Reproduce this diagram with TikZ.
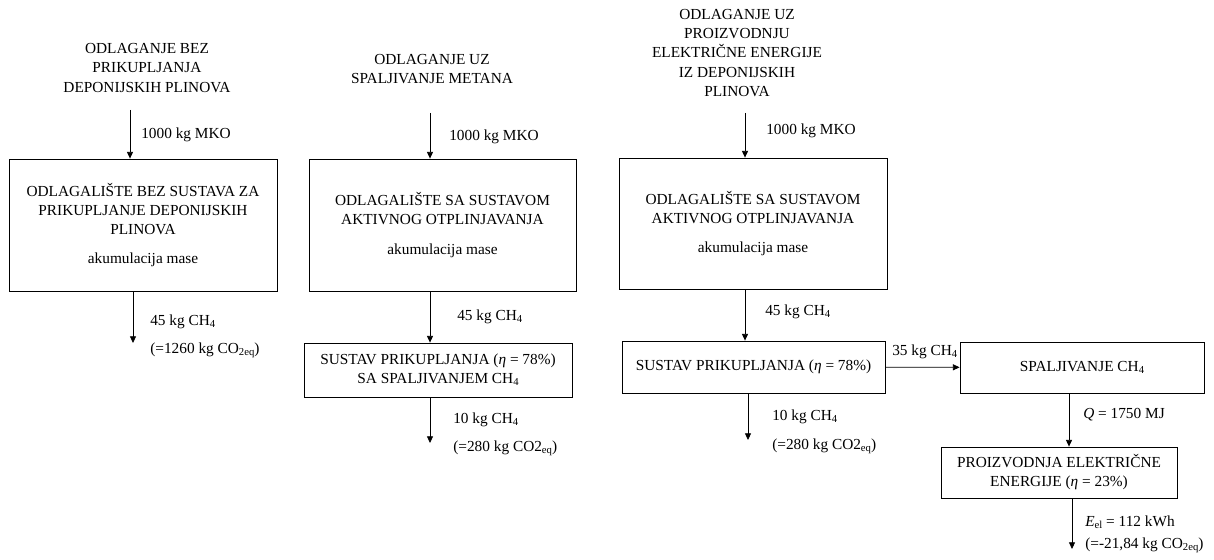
\documentclass[tikz,border=0pt]{standalone}
\usepackage{fontspec}
\setmainfont{Liberation Serif}
\usepackage{xcolor}
\usepackage{tikz}
\usetikzlibrary{positioning, arrows.meta, calc}
\newcommand{\lowsub}[1]{\raisebox{-0.25ex}{\fontsize{8}{8}\selectfont #1}}
\newcommand{\chfour}{CH\lowsub{4}}
\newcommand{\coeq}{CO\lowsub{2eq}}

\begin{document}
\begin{tikzpicture}[x=0.75pt, y=-0.75pt,
        every node/.style={font=\fontsize{11.5}{14.3}\selectfont},
        block/.style={rectangle, draw, line width=0.6pt, align=center, inner sep=0pt},
        title/.style={align=center, inner sep=0pt},
        flowlabel/.style={anchor=west, inner sep=0pt},
        arrow/.style={-{Triangle[length=5pt, width=4.5pt]}, line width=0.6pt}
    ]
        \useasboundingbox (0,0) rectangle (1214,560);

        % Titles
        \node[title] (title1) at (147,68) {ODLAGANJE BEZ\\ PRIKUPLJANJA\\ DEPONIJSKIH PLINOVA};
        \node[title] (title2) at (432,69) {ODLAGANJE UZ\\ SPALJIVANJE METANA};
        \node[title] (title3) at (737,53) {ODLAGANJE UZ\\ PROIZVODNJU\\ ELEKTRIČNE ENERGIJE\\ IZ DEPONIJSKIH\\ PLINOVA};

        % Landfills
        \node[block, minimum width=201pt, minimum height=99pt] (landfill1) at (143,225) {ODLAGALIŠTE BEZ SUSTAVA ZA\\ PRIKUPLJANJE DEPONIJSKIH\\ PLINOVA\\[8pt] akumulacija mase};
        \node[block, minimum width=200.25pt, minimum height=99pt] (landfill2) at (442.5,225) {ODLAGALIŠTE SA SUSTAVOM\\ AKTIVNOG OTPLINJAVANJA\\[8pt] akumulacija mase};
        \node[block, minimum width=201pt, minimum height=98.25pt] (landfill3) at (753,223.5) {ODLAGALIŠTE SA SUSTAVOM\\ AKTIVNOG OTPLINJAVANJA\\[8pt] akumulacija mase};

        % Collection systems
        \node[block, minimum width=201pt, minimum height=40.5pt] (collect2) at (438,370) {SUSTAV PRIKUPLJANJA ({\itshape η} = 78\%)\\ SA SPALJIVANJEM \chfour};
        \node[block, minimum width=197.25pt, minimum height=39pt] (collect3) at (753.5,367) {SUSTAV PRIKUPLJANJA ({\itshape η} = 78\%)};

        % Combustion and power
        \node[block, minimum width=183pt, minimum height=38.25pt] (burn) at (1082,367.5) {SPALJIVANJE \chfour};
        \node[block, minimum width=177pt, minimum height=38.25pt] (power) at (1059,472.5) {PROIZVODNJA ELEKTRIČNE\\ ENERGIJE ({\itshape η} = 23\%)};

        % Inputs
        \coordinate (in1) at (130,110);
        \coordinate (in2) at (430,113);
        \coordinate (in3) at (745,113);
        \draw[arrow] (in1) -- (in1 |- landfill1.north);
        \draw[arrow] (in2) -- (in2 |- landfill2.north);
        \draw[arrow] (in3) -- (in3 |- landfill3.north);
        \node[flowlabel] (mko1) at (141,135) {1000 kg MKO};
        \node[flowlabel] (mko2) at (449,137) {1000 kg MKO};
        \node[flowlabel] (mko3) at (766,131) {1000 kg MKO};

        % Methane flows
        \coordinate (out1) at (133,343);
        \draw[arrow] (out1 |- landfill1.south) -- (out1);
        \draw[arrow] (in2 |- landfill2.south) -- (in2 |- collect2.north);
        \draw[arrow] (in3 |- landfill3.south) -- (in3 |- collect3.north);
        \node[flowlabel] (ch1) at (150,322) {45 kg \chfour};
        \node[flowlabel] (eq1) at (150,350) {(=1260 kg \coeq)};
        \node[flowlabel] (ch2) at (457,317) {45 kg \chfour};
        \node[flowlabel] (ch3) at (765,312) {45 kg \chfour};

        % Emissions
        \coordinate (out2) at (430,443);
        \coordinate (out3) at (748,440);
        \draw[arrow] (out2 |- collect2.south) -- (out2);
        \draw[arrow] (out3 |- collect3.south) -- (out3);
        \node[flowlabel] (rest2) at (453,420) {10 kg \chfour};
        \node[flowlabel] (eq2) at (453,448) {(=280 kg CO2\lowsub{eq})};
        \node[flowlabel] (rest3) at (772,417) {10 kg \chfour};
        \node[flowlabel] (eq3) at (772,446) {(=280 kg CO2\lowsub{eq})};

        % Energy path
        \draw[arrow] (collect3) -- (burn);
        \node[flowlabel] (ch35) at (892,352) {35 kg \chfour};
        \draw[arrow] ([xshift=-9.75pt]burn.south) -- ([xshift=-9.75pt]burn.south |- power.north);
        \node[flowlabel] (heat) at (1083,415) {\textit{Q} = 1750 MJ};
        \coordinate (out4) at (1072,549);
        \draw[arrow] (out4 |- power.south) -- (out4);
        \node[flowlabel] (elec) at (1085,522) {\textit{E}\lowsub{el} = 112 kWh};
        \node[flowlabel] (eq4) at (1085,545) {(=-21,84 kg \coeq)};
    \end{tikzpicture}
\end{document}
